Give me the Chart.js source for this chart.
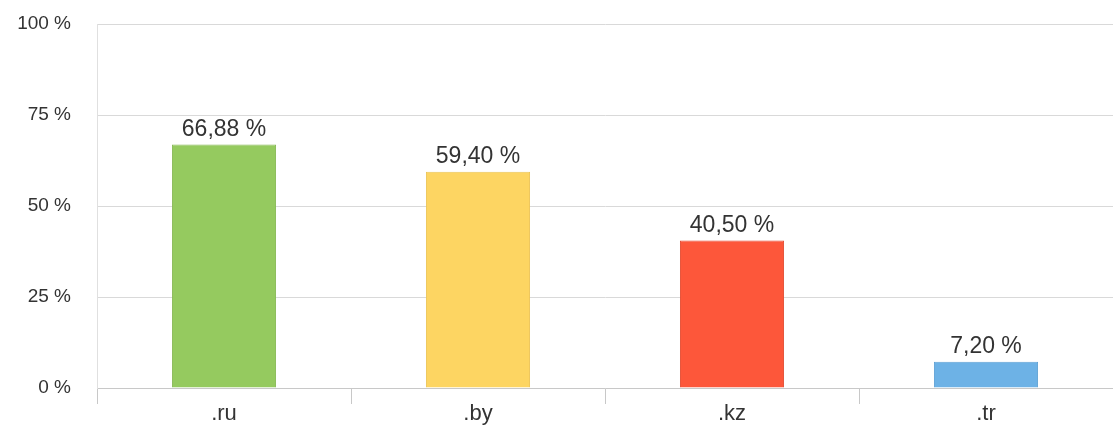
<!DOCTYPE html>
<html>
<head>
<meta charset="utf-8">
<script src="https://cdn.jsdelivr.net/npm/chart.js@4"></script>
<style>
  html, body { margin: 0; padding: 0; background: #fff; }
  #wrap { width: 1113px; height: 426px; }
</style>
</head>
<body>
<div id="wrap"><canvas id="myChart"></canvas></div>
<script>
const categories = ['.ru', '.by', '.kz', '.tr'];
const values = [66.88, 59.40, 40.50, 7.20];
const yTicks = [0, 25, 50, 75, 100];
const barColors = ['#95ca5f', '#fdd562', '#fd573a', '#6db2e6'];
const barBorders = ['#86b954', '#ecc455', '#e24b31', '#5fa1d4'];

// percent labels above the bars
const valueLabels = {
  id: 'valueLabels',
  afterDatasetsDraw(chart) {
    const ctx = chart.ctx;
    const meta = chart.getDatasetMeta(0);
    ctx.save();
    ctx.font = '23px Arial, "Liberation Sans", sans-serif';
    ctx.fillStyle = '#333';
    ctx.textAlign = 'center';
    ctx.textBaseline = 'alphabetic';
    meta.data.forEach((bar, i) => {
      const txt = values[i].toFixed(2).replace('.', ',') + ' %';
      ctx.fillText(txt, bar.x, bar.y - 9);
    });
    ctx.restore();
  }
};

const ctx1 = document.getElementById('myChart').getContext('2d');
const myChart = new Chart(ctx1, {
  type: 'bar',
  data: {
    labels: categories,
    datasets: [{
      data: values,
      backgroundColor: barColors,
      borderColor: barBorders,
      borderWidth: 1,
      categoryPercentage: 1,
      barPercentage: 0.41
    }]
  },
  options: {
    responsive: true,
    maintainAspectRatio: false,
    animation: false,
    layout: { padding: { top: 24, right: 0, left: 0, bottom: 0 } },
    plugins: {
      legend: { display: false },
      tooltip: { enabled: false }
    },
    scales: {
      x: {
        offset: true,
        grid: {
          offset: true,
          drawOnChartArea: false,
          drawTicks: true,
          tickLength: 16,
          color: '#c8c8c8'
        },
        border: { display: true, color: '#c8c8c8' },
        ticks: {
          color: '#333',
          padding: -3,
          font: { family: 'Arial, "Liberation Sans", sans-serif', size: 22 }
        },
        afterFit(scale) { scale.height = 38; }
      },
      y: {
        min: 0,
        max: 100,
        afterBuildTicks(scale) {
          scale.ticks = yTicks.map(v => ({ value: v }));
        },
        grid: {
          color: '#d9d9d9',
          drawTicks: true,
          tickLength: 25,
          tickColor: 'rgba(0,0,0,0)'
        },
        border: { display: true, color: '#e0e0e0' },
        ticks: {
          color: '#333',
          padding: 1,
          font: { family: 'Arial, "Liberation Sans", sans-serif', size: 19 },
          callback: v => v + ' %'
        },
        afterFit(scale) { scale.width = 97; }
      }
    }
  },
  plugins: [valueLabels]
});
</script>
</body>
</html>
